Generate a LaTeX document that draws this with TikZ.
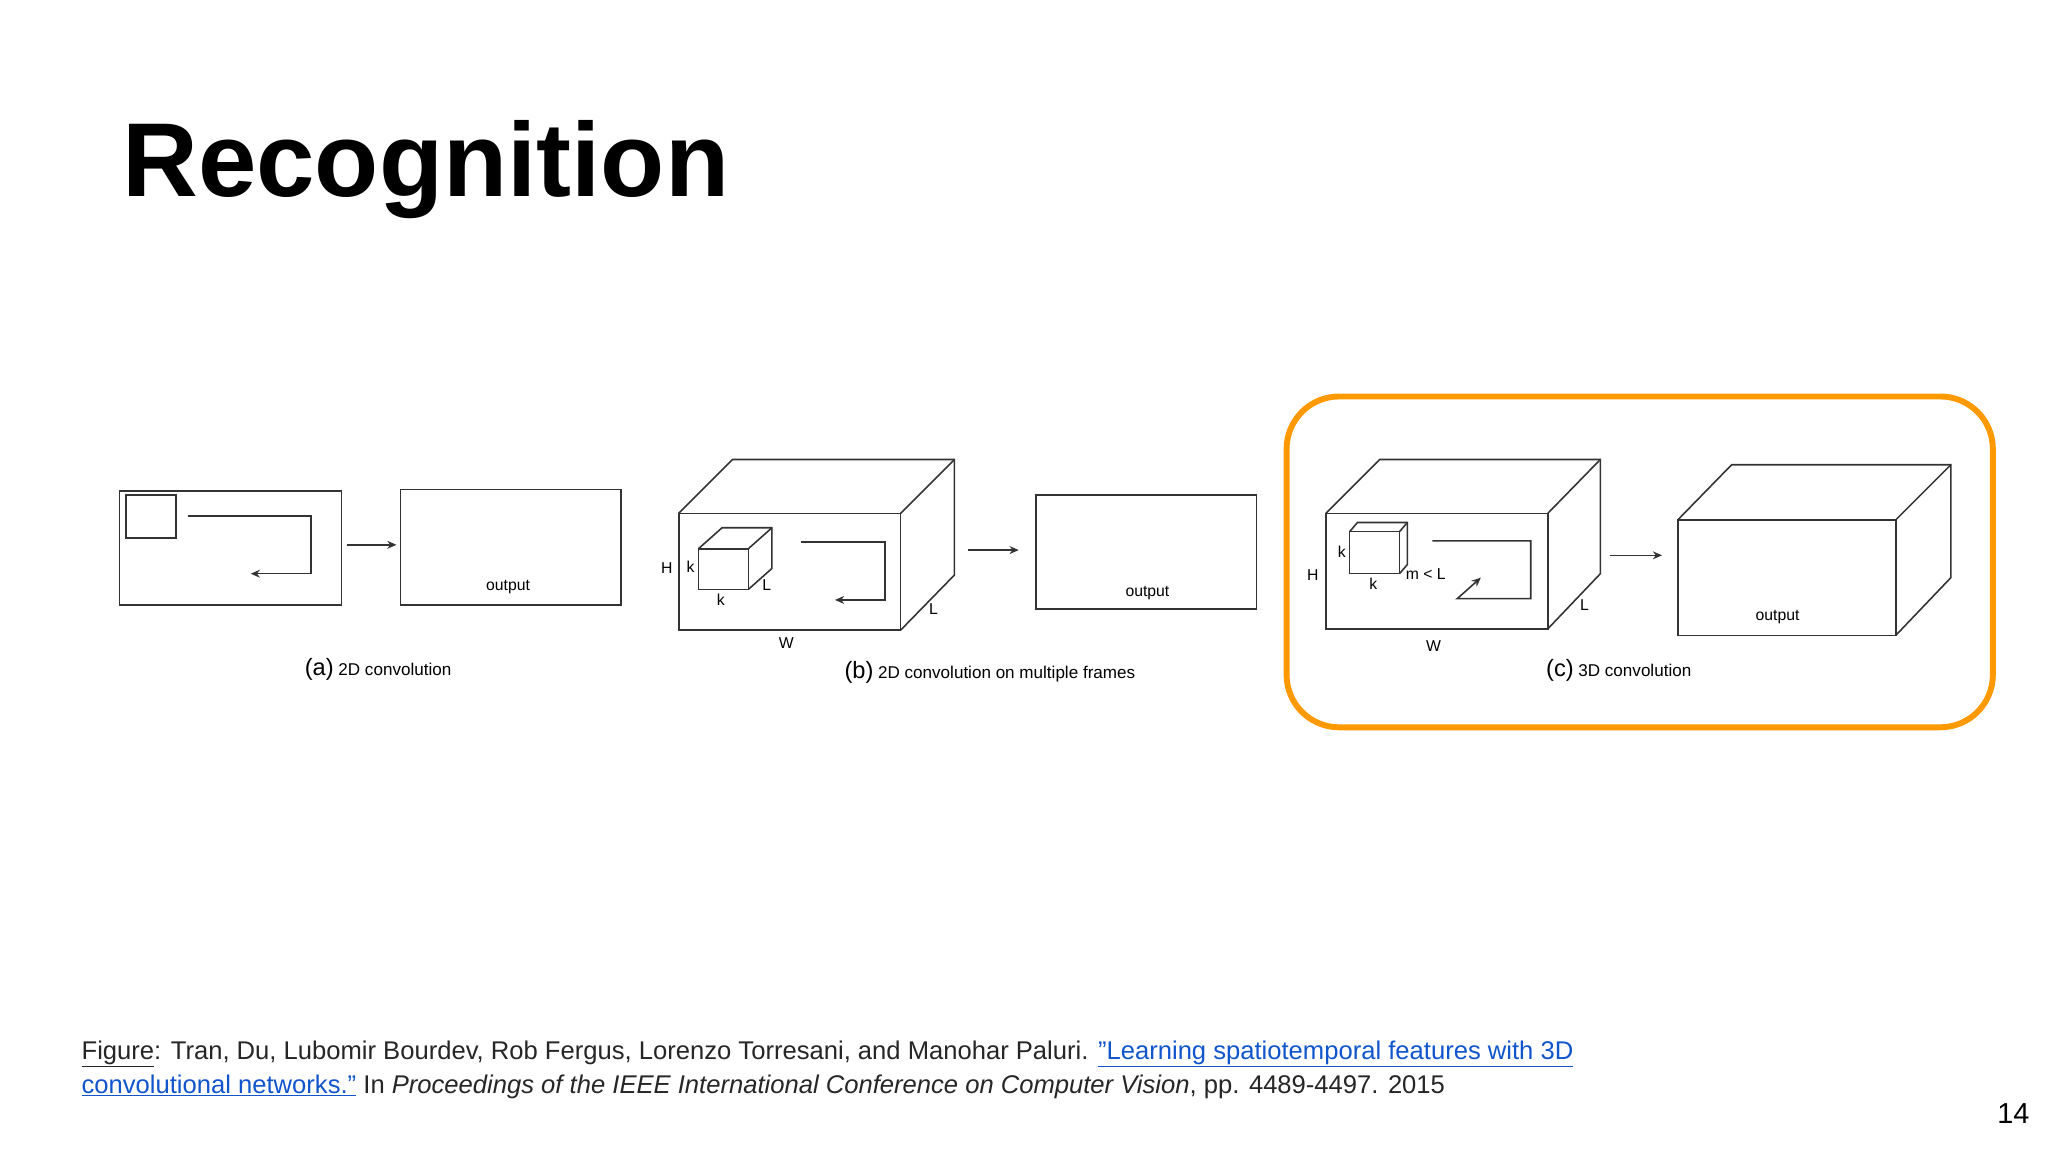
\documentclass[tikz,border=0pt]{standalone}
\usepackage{fontspec}
\setmainfont{Liberation Sans}
\usetikzlibrary{arrows.meta}
\definecolor{linkblue}{HTML}{1155CC}
\definecolor{orng}{HTML}{FF9900}
\newcommand{\myul}[1]{\underline{#1}}
\begin{document}
\begin{tikzpicture}[x=1pt,y=-1pt,
  ln/.style={line width=1.2pt,draw=black!80},
  arr/.style={ln,-{Stealth[length=7pt,width=6pt]}},
  lab/.style={inner sep=0pt,font=\fontsize{12}{12}\selectfont},
  capt/.style={inner sep=0pt,font=\fontsize{13}{13}\selectfont}]
\useasboundingbox (0,0) rectangle (1560,877.5);
\fill[white] (0,0) rectangle (1560,877.5);
\node[anchor=base west,inner sep=0pt,font=\fontsize{80}{80}\selectfont\bfseries] (title) at (93,150) {Recognition};
% (a)
\draw[ln] (91,374) rectangle (260,461);
\draw[ln] (96,377) rectangle (134,410);
\coordinate (a1) at (143,393); \coordinate (a2) at (237,393); \coordinate (a3) at (237,437); \coordinate (a4) at (191,437);
\draw[arr] (a1) -- (a2) -- (a3) -- (a4);
\coordinate (aa) at (264,415); \coordinate (ab) at (302,415);
\draw[arr] (aa) -- (ab);
\draw[ln] (305,373) rectangle (473,461);
\node[lab] (ao) at (387,447) {output};
\node[capt] (acap) at (288,510) {{\fontsize{18}{18}\selectfont(a)} 2D convolution};
% (b)
\draw[ln] (517,391) rectangle (686,480);
\draw[ln] (517,391) -- (558,350) -- (727,350) -- (727,438) -- (686,480);
\draw[ln] (686,391) -- (727,350);
\draw[ln] (532,418) rectangle (570,449);
\draw[ln] (532,418) -- (550,402) -- (588,402) -- (588,433) -- (570,449);
\draw[ln] (570,418) -- (588,402);
\node[lab] (bH) at (508,433) {H};
\node[lab] (bk1) at (526,432) {k};
\node[lab] (bk2) at (549,457) {k};
\node[lab] (bL1) at (584,446) {L};
\node[lab] (bL2) at (711,464) {L};
\node[lab] (bW) at (599,490) {W};
\coordinate (b1) at (610,413); \coordinate (b2) at (674,413); \coordinate (b3) at (674,457); \coordinate (b4) at (636,457);
\draw[arr] (b1) -- (b2) -- (b3) -- (b4);
\coordinate (ba) at (737,419); \coordinate (bb) at (776,419);
\draw[arr] (ba) -- (bb);
\draw[ln] (789,377) rectangle (957,464);
\node[lab] (bo) at (874,452) {output};
\node[capt] (bcap) at (754,512) {{\fontsize{18}{18}\selectfont(b)} 2D convolution on multiple frames};
% (c)
\draw[orng,line width=4.5pt,rounded corners=40pt] (980,302) rectangle (1518,554);
\draw[ln] (1010,391) rectangle (1179,479);
\draw[ln] (1010,391) -- (1051,350) -- (1219,350) -- (1219,437) -- (1179,479);
\draw[ln] (1179,391) -- (1219,350);
\draw[ln] (1028,405) rectangle (1066,437);
\draw[ln] (1028,405) -- (1034,398) -- (1072,398) -- (1072,430) -- (1066,437);
\draw[ln] (1066,405) -- (1072,398);
\node[lab] (ck1) at (1022,420) {k};
\node[lab] (cH) at (1000,438) {H};
\node[lab] (ck2) at (1046,445) {k};
\node[lab] (cm) at (1086,437) {m < L};
\node[lab] (cL) at (1207,461) {L};
\node[lab] (cW) at (1092,492) {W};
\coordinate (c1) at (1091,412); \coordinate (c2) at (1166,412); \coordinate (c3) at (1166,456); \coordinate (c4) at (1110,456); \coordinate (c5) at (1128,440);
\draw[arr] (c1) -- (c2) -- (c3) -- (c4) -- (c5);
\coordinate (ca) at (1226,423); \coordinate (cb) at (1266,423);
\draw[arr] (ca) -- (cb);
\draw[ln] (1278,396) rectangle (1444,484);
\draw[ln] (1278,396) -- (1319,354) -- (1486,354) -- (1486,440) -- (1444,484);
\draw[ln] (1444,396) -- (1486,354);
\node[lab] (co) at (1354,470) {output};
\node[capt] (ccap) at (1233,511) {{\fontsize{18}{18}\selectfont(c)} 3D convolution};
% citation
\node[anchor=base west,inner sep=0pt,font=\fontsize{19.5}{19.5}\selectfont,text=black!85] (cit1) at (62,807) {\myul{Figure}: Tran, Du, Lubomir Bourdev, Rob Fergus, Lorenzo Torresani, and Manohar Paluri. \textcolor{linkblue}{\myul{"Learning spatiotemporal features with 3D}}};
\node[anchor=base west,inner sep=0pt,font=\fontsize{19.5}{19.5}\selectfont,text=black!85] (cit2) at (62,833) {\textcolor{linkblue}{\myul{convolutional networks."}} In \textit{Proceedings of the IEEE International Conference on Computer Vision}, pp. 4489-4497. 2015};
\node[anchor=base east,inner sep=0pt,font=\fontsize{22}{22}\selectfont] (pg) at (1546,856) {14};
\end{tikzpicture}
\end{document}
